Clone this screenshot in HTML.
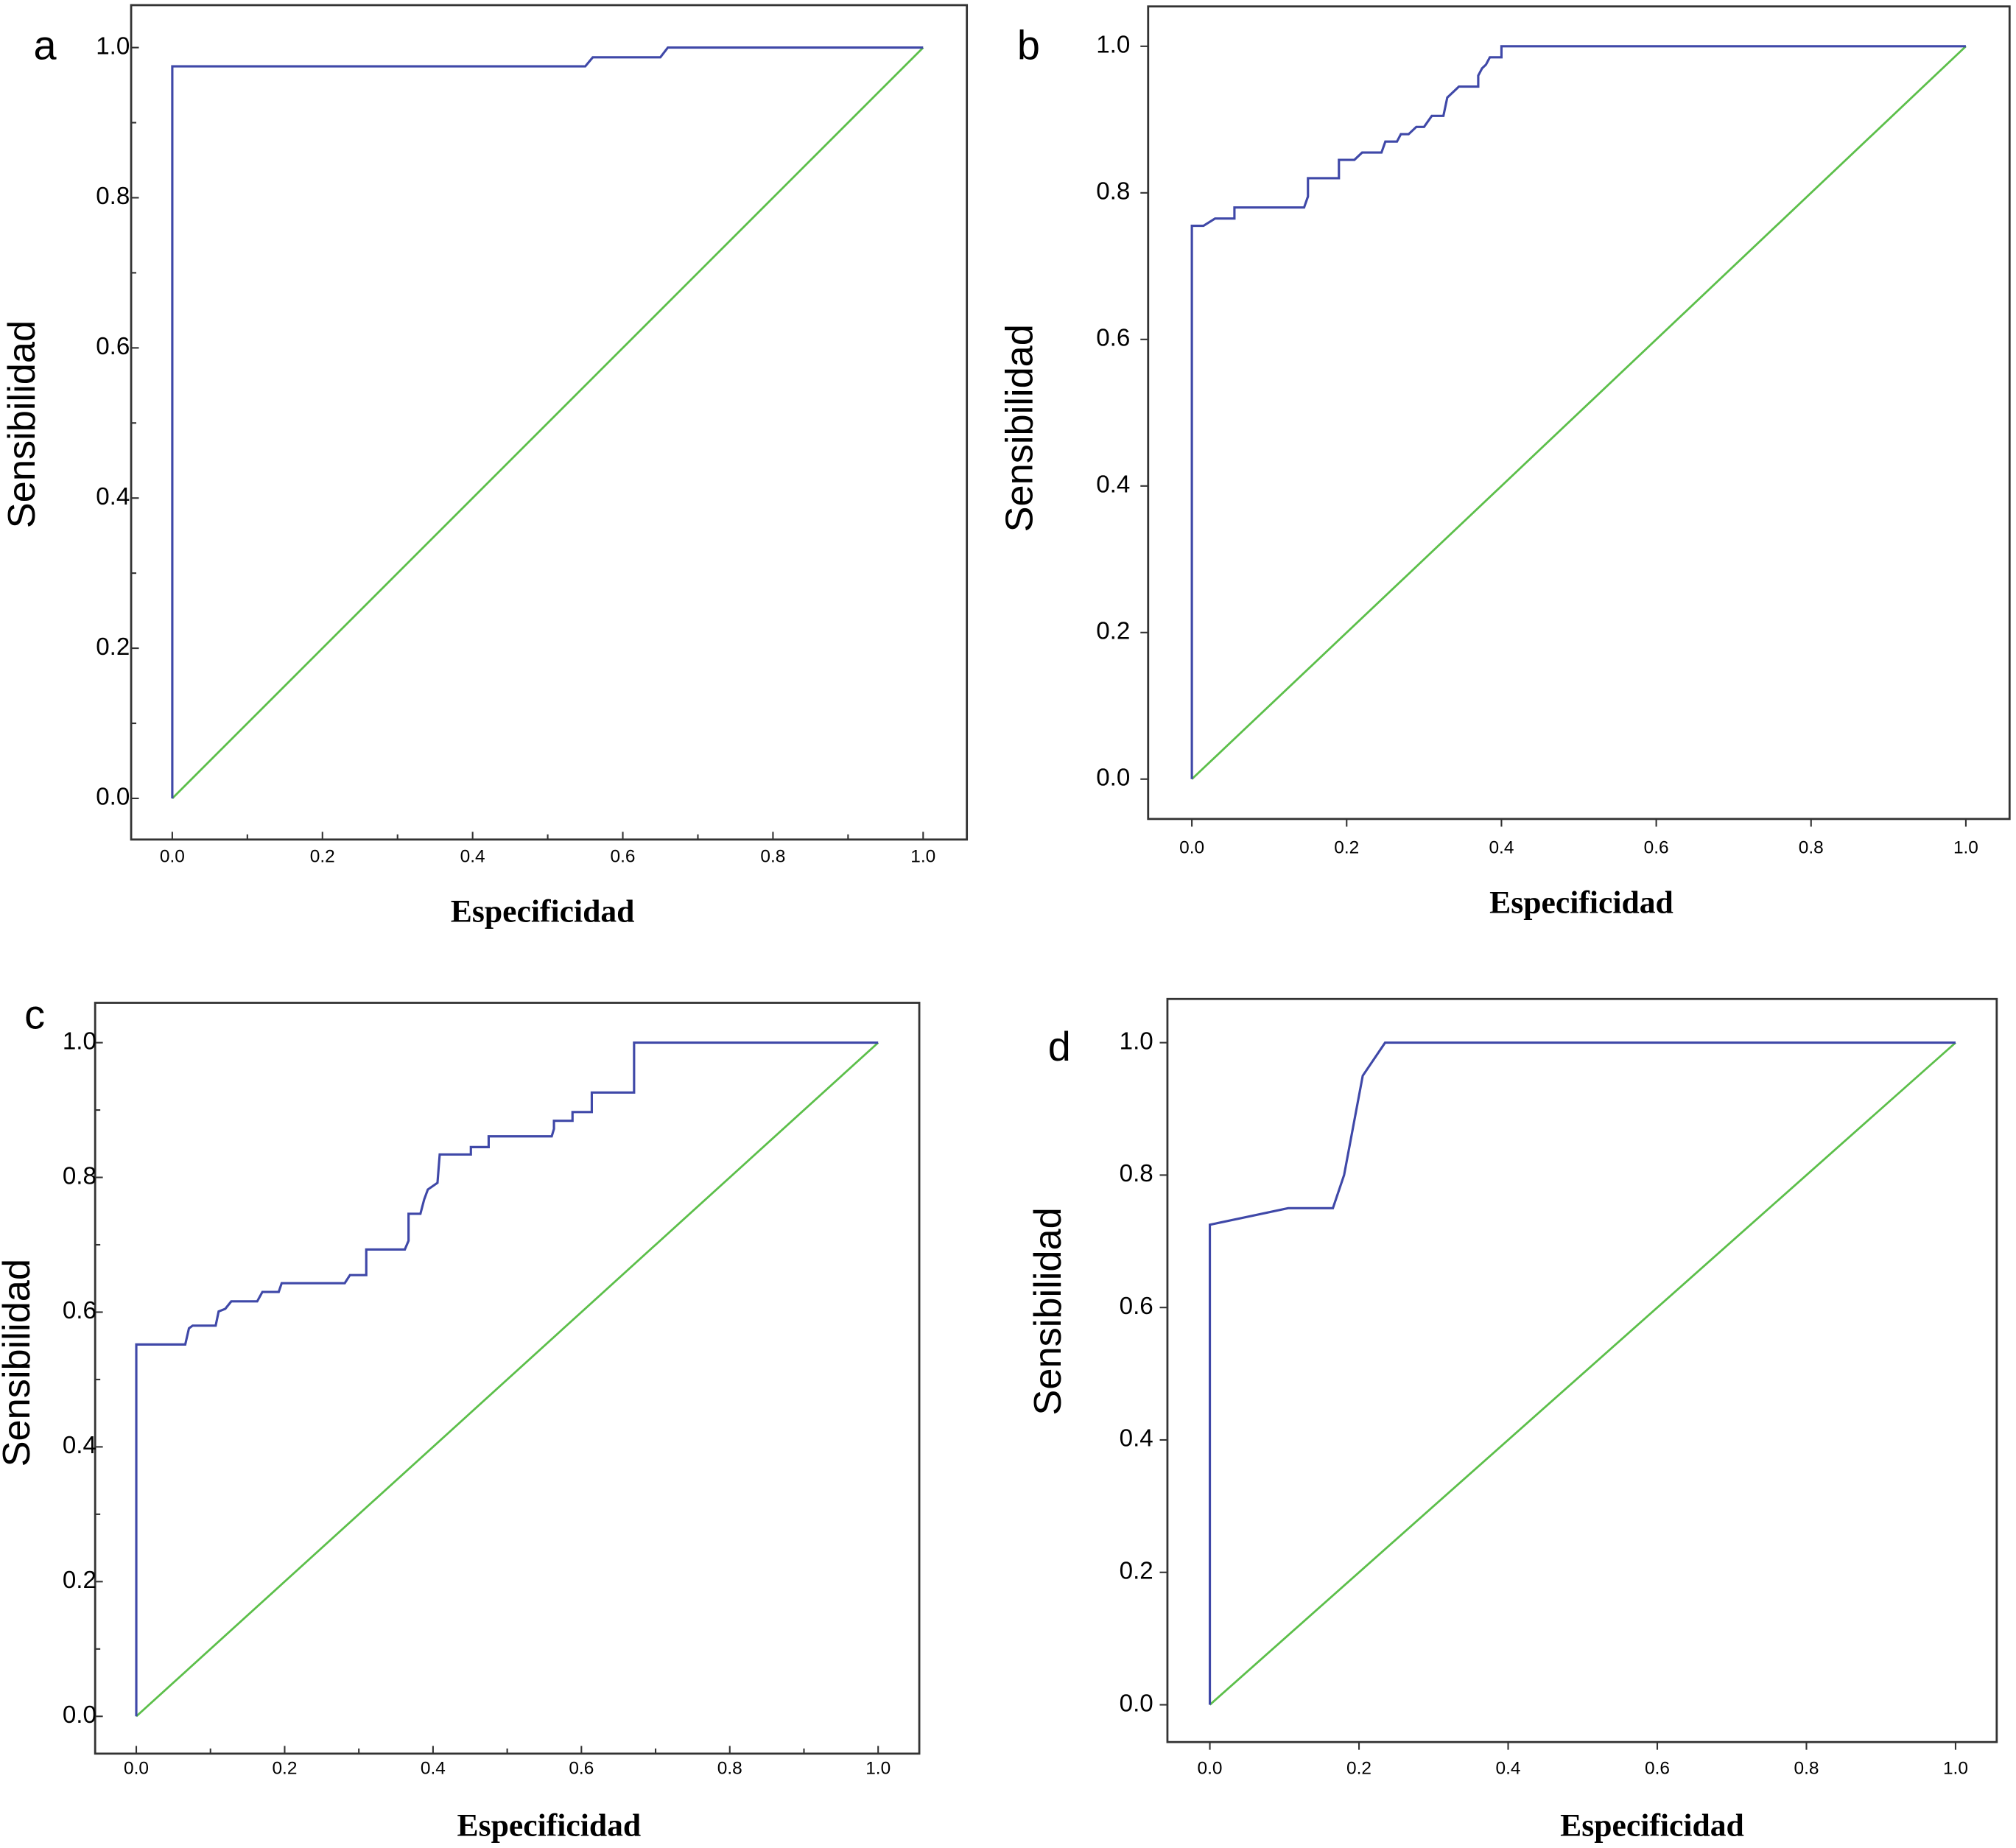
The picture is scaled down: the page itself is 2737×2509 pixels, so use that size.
<!DOCTYPE html>
<html><head><meta charset="utf-8"><style>
html,body{margin:0;padding:0;background:#fff;}
svg{display:block;}
text{font-family:"Liberation Sans",sans-serif;fill:#000;}
.ttl{font-family:"Liberation Serif",serif;font-weight:bold;}
</style></head><body>
<svg id="fig" width="2737" height="2509" viewBox="0 0 1568 1437.4" preserveAspectRatio="none" xmlns="http://www.w3.org/2000/svg"></svg>
<script>
// Chart data (x = 1 - specificity, y = sensitivity)
const ticks = [0, 0.2, 0.4, 0.6, 0.8, 1.0];
const tickLabels = ["0.0", "0.2", "0.4", "0.6", "0.8", "1.0"];
const aX = [0, 0, 0.55, 0.56, 0.65, 0.66, 1];
const aY = [0, 0.975, 0.975, 0.987, 0.987, 1, 1];
const bX = [0, 0, 0.015, 0.03, 0.055, 0.055, 0.145, 0.15, 0.15, 0.19, 0.19, 0.21, 0.22, 0.245, 0.25, 0.265, 0.27, 0.28, 0.29, 0.3, 0.31, 0.325, 0.33, 0.345, 0.37, 0.37, 0.375, 0.38, 0.385, 0.4, 0.4, 1];
const bY = [0, 0.755, 0.755, 0.765, 0.765, 0.78, 0.78, 0.795, 0.82, 0.82, 0.845, 0.845, 0.855, 0.855, 0.87, 0.87, 0.88, 0.88, 0.89, 0.89, 0.905, 0.905, 0.93, 0.945, 0.945, 0.96, 0.97, 0.975, 0.985, 0.985, 1, 1];
const cX = [0, 0, 0.066, 0.071, 0.076, 0.107, 0.111, 0.12, 0.128, 0.163, 0.17, 0.192, 0.196, 0.281, 0.288, 0.31, 0.31, 0.362, 0.367, 0.367, 0.383, 0.388, 0.393, 0.406, 0.409, 0.451, 0.451, 0.475, 0.475, 0.56, 0.563, 0.563, 0.588, 0.588, 0.614, 0.614, 0.671, 0.671, 1];
const cY = [0, 0.552, 0.552, 0.576, 0.58, 0.58, 0.601, 0.605, 0.616, 0.616, 0.63, 0.63, 0.643, 0.643, 0.655, 0.655, 0.693, 0.693, 0.706, 0.746, 0.746, 0.767, 0.782, 0.792, 0.834, 0.834, 0.845, 0.845, 0.861, 0.861, 0.872, 0.884, 0.884, 0.897, 0.897, 0.926, 0.926, 1, 1];
const dX = [0, 0, 0.105, 0.165, 0.18, 0.205, 0.235, 1];
const dY = [0, 0.725, 0.75, 0.75, 0.8, 0.95, 1, 1];

const NS = "http://www.w3.org/2000/svg";
const svg = document.getElementById('fig');
function mk(tag, attrs, parent) {
  const e = document.createElementNS(NS, tag);
  for (const k in attrs) e.setAttribute(k, attrs[k]);
  parent.appendChild(e);
  return e;
}
const panels = [
  {id:'a', xs:aX, ys:aY, f:[102,4,752,653], x0:134, x1:718, y0:621, y1:37, yl:101, xl:667, tt:[422,717], yt:[19,330], L:[35,46], out:false},
  {id:'b', xs:bX, ys:bY, f:[893,5,1563,637], x0:927, x1:1529, y0:606, y1:36, yl:879, xl:660, tt:[1230,710], yt:[795,333], L:[800,46], out:true},
  {id:'c', xs:cX, ys:cY, f:[74,780,715,1364], x0:106, x1:683, y0:1335, y1:811, yl:75, xl:1376, tt:[427,1428], yt:[15,1060], L:[27,800], out:false},
  {id:'d', xs:dX, ys:dY, f:[908,777,1553,1355], x0:941, x1:1521, y0:1326, y1:811, yl:897, xl:1376, tt:[1285,1428], yt:[817,1020], L:[824,825], out:true}
];
panels.forEach(p => {
  const g = mk('g', {}, svg);
  
  
  const sx = v => p.x0 + v * (p.x1 - p.x0);
  const sy = v => p.y0 - v * (p.y0 - p.y1);
  const fr = mk('rect', {x:p.f[0], y:p.f[1], width:p.f[2]-p.f[0], height:p.f[3]-p.f[1], fill:'none', stroke:'#333', 'stroke-width':1.6}, g);
  
  
  for (let i = 0; i <= 10; i++) {
    const v = i / 10;
    const major = (i % 2 === 0);
    if (p.out && !major) continue;
    const len = major ? 6 : 4;
    const dir = p.out ? -1 : 1;
    const tx = mk('line', {x1:sx(v), x2:sx(v), y1:p.f[3], y2:p.f[3]-dir*len, stroke:'#333', 'stroke-width':1.2}, g);
    
    
    const ty = mk('line', {x1:p.f[0], x2:p.f[0]+dir*len, y1:sy(v), y2:sy(v), stroke:'#333', 'stroke-width':1.2}, g);
    
    
  }
  ticks.forEach((v, i) => {
    const t = mk('text', {x:sx(v), y:p.xl, 'font-size':14, 'text-anchor':'middle', 'dominant-baseline':'middle'}, g);
    t.textContent = tickLabels[i];
    
    
    const u = mk('text', {x:p.yl, y:sy(v), 'font-size':19, 'text-anchor':'end', 'dominant-baseline':'middle'}, g);
    u.textContent = tickLabels[i];
    
    
  });
  const ref = mk('line', {x1:sx(0), y1:sy(0), x2:sx(1), y2:sy(1), stroke:'#5cbf4a', 'stroke-width':1.6}, g);
  
  
  const pts = p.xs.map((x, i) => sx(x).toFixed(2) + ',' + sy(p.ys[i]).toFixed(2)).join(' ');
  const roc = mk('polyline', {points:pts, fill:'none', stroke:'#3f48a8', 'stroke-width':1.8}, g);
  
  
  const tt = mk('text', {x:p.tt[0], y:p.tt[1], 'font-size':25, 'text-anchor':'middle', class:'ttl'}, g);
  tt.textContent = 'Especificidad';
  
  
  const yt = mk('text', {x:0, y:0, 'font-size':30, 'text-anchor':'middle', transform:'translate(' + p.yt[0] + ',' + p.yt[1] + ') rotate(-90)', 'dominant-baseline':'middle'}, g);
  yt.textContent = 'Sensibilidad';
  
  
  const L = mk('text', {x:p.L[0], y:p.L[1], 'font-size':32, 'text-anchor':'middle'}, g);
  L.textContent = p.id;
  
  
});
</script>
</body></html>
